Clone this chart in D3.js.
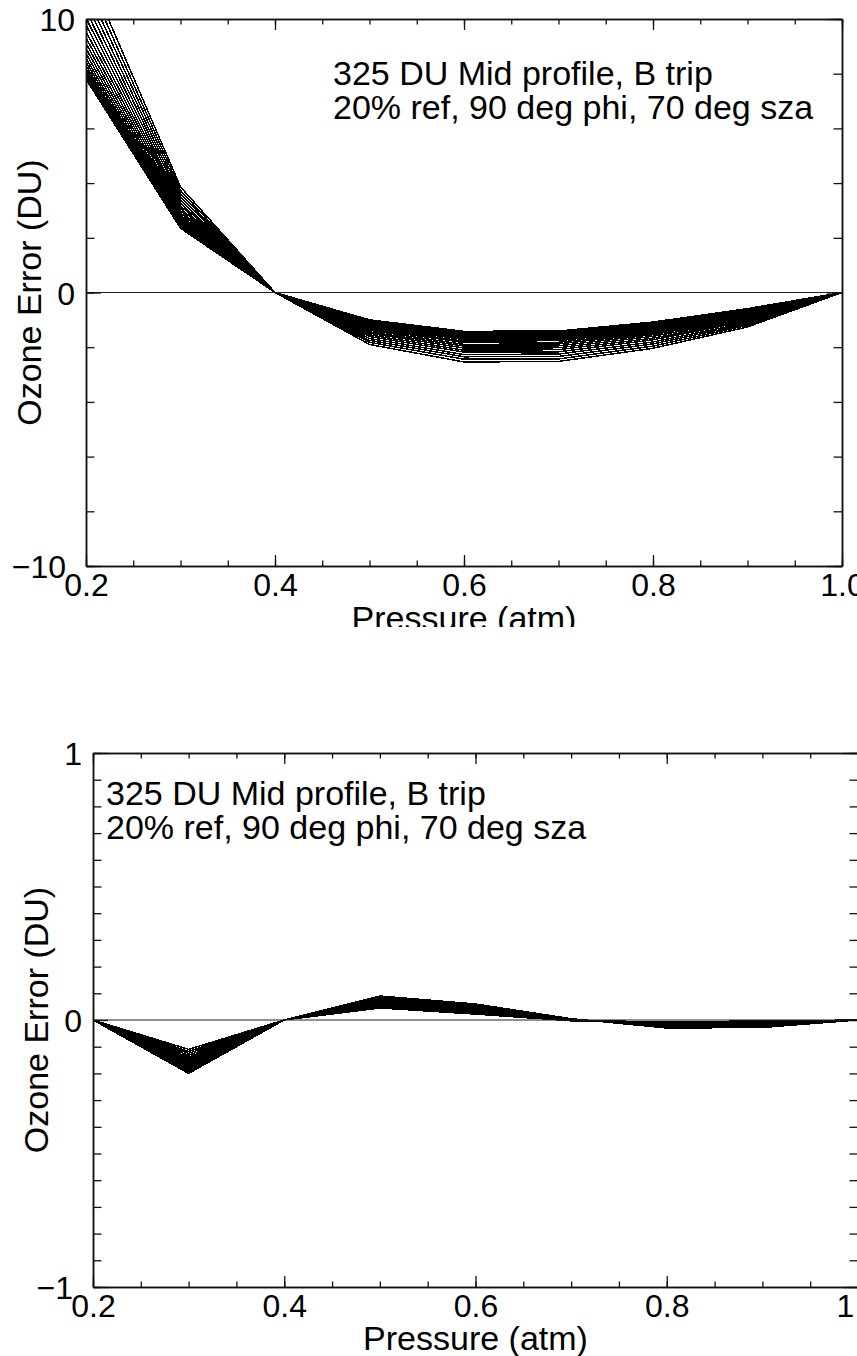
<!DOCTYPE html>
<html>
<head>
<meta charset="utf-8">
<script src="https://cdn.jsdelivr.net/npm/d3@7"></script>
<style>
  html, body { margin: 0; padding: 0; background: #fff; }
  svg { display: block; }
  text { font-family: "Liberation Sans", Arial, Helvetica, sans-serif; fill: #000; }
  .tick text { font-size: 32px; font-family: "Liberation Sans", Arial, Helvetica, sans-serif; }
  .note { font-size: 34px; }
  .title { font-size: 34px; }
  .frame path.domain { stroke: #111; stroke-width: 1.5; }
  .frame .tick line { stroke: #111; stroke-width: 1.3; }
</style>
</head>
<body>
<svg id="chart" width="857" height="1356"></svg>
<script>
// Pressure levels (atm) shared by every curve
const pressure = [0.2, 0.3, 0.4, 0.5, 0.6, 0.7, 0.8, 0.9, 1.0];

// Ozone error (DU) per pressure level, one row per curve — upper panel
const upperCurves = [
  [7.80, 2.35, 0, -1.00, -1.42, -1.41, -1.08, -0.59, 0],
  [7.81, 2.35, 0, -1.00, -1.42, -1.41, -1.08, -0.59, 0],
  [7.83, 2.36, 0, -1.01, -1.43, -1.42, -1.09, -0.60, 0],
  [7.87, 2.38, 0, -1.02, -1.44, -1.43, -1.10, -0.60, 0],
  [7.92, 2.40, 0, -1.03, -1.45, -1.44, -1.11, -0.61, 0],
  [7.99, 2.42, 0, -1.04, -1.47, -1.46, -1.13, -0.62, 0],
  [8.08, 2.45, 0, -1.06, -1.50, -1.49, -1.15, -0.64, 0],
  [8.18, 2.49, 0, -1.08, -1.52, -1.51, -1.17, -0.65, 0],
  [8.30, 2.53, 0, -1.11, -1.56, -1.54, -1.20, -0.67, 0],
  [8.43, 2.58, 0, -1.14, -1.59, -1.58, -1.23, -0.69, 0],
  [8.57, 2.64, 0, -1.17, -1.63, -1.62, -1.26, -0.72, 0],
  [8.74, 2.70, 0, -1.21, -1.68, -1.66, -1.30, -0.74, 0],
  [8.92, 2.76, 0, -1.24, -1.72, -1.71, -1.34, -0.77, 0],
  [9.11, 2.83, 0, -1.29, -1.78, -1.76, -1.39, -0.80, 0],
  [9.32, 2.91, 0, -1.33, -1.83, -1.82, -1.44, -0.84, 0],
  [9.54, 2.99, 0, -1.38, -1.90, -1.88, -1.49, -0.87, 0],
  [9.78, 3.08, 0, -1.44, -1.96, -1.95, -1.54, -0.91, 0],
  [10.04, 3.17, 0, -1.49, -2.03, -2.02, -1.60, -0.96, 0],
  [10.31, 3.27, 0, -1.55, -2.11, -2.09, -1.67, -1.00, 0],
  [10.60, 3.38, 0, -1.61, -2.18, -2.17, -1.73, -1.05, 0],
  [10.90, 3.49, 0, -1.68, -2.27, -2.25, -1.81, -1.10, 0],
  [11.22, 3.61, 0, -1.75, -2.35, -2.34, -1.88, -1.15, 0],
  [11.55, 3.73, 0, -1.82, -2.44, -2.43, -1.96, -1.20, 0],
  [11.90, 3.86, 0, -1.90, -2.54, -2.52, -2.04, -1.26, 0]
];

// Ozone error (DU) per pressure level, one row per curve — lower panel
const lowerCurves = [
  [0, -0.200, 0, 0.090, 0.060, 0.005, -0.030, -0.028, 0],
  [0, -0.200, 0, 0.090, 0.060, 0.005, -0.030, -0.028, 0],
  [0, -0.199, 0, 0.090, 0.060, 0.005, -0.030, -0.028, 0],
  [0, -0.198, 0, 0.089, 0.059, 0.005, -0.030, -0.028, 0],
  [0, -0.197, 0, 0.089, 0.059, 0.005, -0.029, -0.027, 0],
  [0, -0.196, 0, 0.088, 0.058, 0.005, -0.029, -0.027, 0],
  [0, -0.194, 0, 0.087, 0.057, 0.004, -0.028, -0.026, 0],
  [0, -0.192, 0, 0.086, 0.056, 0.004, -0.028, -0.026, 0],
  [0, -0.189, 0, 0.085, 0.055, 0.004, -0.027, -0.025, 0],
  [0, -0.186, 0, 0.083, 0.054, 0.004, -0.026, -0.024, 0],
  [0, -0.183, 0, 0.081, 0.053, 0.003, -0.025, -0.023, 0],
  [0, -0.179, 0, 0.080, 0.051, 0.003, -0.025, -0.023, 0],
  [0, -0.176, 0, 0.078, 0.050, 0.003, -0.023, -0.021, 0],
  [0, -0.171, 0, 0.076, 0.048, 0.002, -0.022, -0.020, 0],
  [0, -0.167, 0, 0.073, 0.046, 0.002, -0.021, -0.019, 0],
  [0, -0.162, 0, 0.071, 0.044, 0.002, -0.020, -0.018, 0],
  [0, -0.156, 0, 0.068, 0.042, 0.001, -0.018, -0.016, 0],
  [0, -0.151, 0, 0.065, 0.039, 0.001, -0.017, -0.015, 0],
  [0, -0.145, 0, 0.062, 0.037, 0.000, -0.015, -0.013, 0],
  [0, -0.139, 0, 0.059, 0.034, 0.000, -0.014, -0.012, 0],
  [0, -0.132, 0, 0.056, 0.031, -0.001, -0.012, -0.010, 0],
  [0, -0.125, 0, 0.052, 0.028, -0.002, -0.010, -0.008, 0],
  [0, -0.118, 0, 0.049, 0.025, -0.002, -0.008, -0.006, 0],
  [0, -0.110, 0, 0.045, 0.022, -0.003, -0.006, -0.004, 0]
];

// Axis ticks and labels
const xMajorTicks = [0.2, 0.4, 0.6, 0.8, 1.0];
const upperXLabels = ["0.2", "0.4", "0.6", "0.8", "1.0"];
const lowerXLabels = ["0.2", "0.4", "0.6", "0.8", "1"];
const upperYTicks = [-10, 0, 10];
const upperYLabels = ["\u221210", "0", "10"];
const lowerYTicks = [-1, 0, 1];
const lowerYLabels = ["\u22121", "0", "1"];

// Text
const noteLines = ["325 DU Mid profile, B trip", "20% ref, 90 deg phi, 70 deg sza"];
const xTitle = "Pressure (atm)";
const yTitle = "Ozone Error (DU)";

const svg = d3.select("#chart");

function drawPanel(o) {
  const root = svg.append("g");
  if (o.clipHeight) {
    root.append("clipPath").attr("id", o.id + "-panel")
      .append("rect").attr("x", 0).attr("y", o.clipTop).attr("width", 857).attr("height", o.clipHeight);
    root.attr("clip-path", `url(#${o.id}-panel)`);
  }

  const x = d3.scaleLinear().domain([0.2, 1.0]).range([o.left, o.right]);
  const y = d3.scaleLinear().domain(o.yDomain).range([o.bottom, o.top]);

  // data curves, clipped to the plot box
  root.append("clipPath").attr("id", o.id + "-plot")
    .append("rect").attr("x", o.left).attr("y", o.top)
    .attr("width", o.right - o.left).attr("height", o.bottom - o.top);

  const line = d3.line().x((d, i) => x(pressure[i])).y(d => y(d));
  root.append("g").attr("clip-path", `url(#${o.id}-plot)`)
    .selectAll("path").data(o.curves).join("path")
    .attr("d", line)
    .attr("fill", "none").attr("stroke", "#000").attr("stroke-width", 1.5)
    .attr("shape-rendering", "crispEdges");

  // zero reference line
  root.append("line")
    .attr("x1", o.left).attr("x2", o.right)
    .attr("y1", y(0)).attr("y2", y(0))
    .attr("stroke", "#222").attr("stroke-width", 1.2);

  const xMinor = x.ticks(16);
  const yMinor = y.ticks(o.yMinorCount);
  const xMajLen = 11, xMinLen = 5.5, yMajLen = 15, yMinLen = 8.5;

  const frame = root.append("g").attr("class", "frame");

  // bottom
  frame.append("g").attr("transform", `translate(0,${o.bottom})`)
    .call(d3.axisBottom(x).tickValues(xMinor).tickSize(-xMinLen).tickSizeOuter(0).tickFormat(""));
  const bx = frame.append("g").attr("transform", `translate(0,${o.bottom})`)
    .call(d3.axisBottom(x).tickValues(xMajorTicks).tickSize(-xMajLen).tickSizeOuter(0)
      .tickFormat((d, i) => o.xLabels[i]));
  bx.selectAll(".tick text").attr("y", 30).attr("dy", null)
    .attr("dx", (d, i) => (i === o.xLabels.length - 1 ? o.lastXLabelShift : 0));

  // top
  frame.append("g").attr("transform", `translate(0,${o.top})`)
    .call(d3.axisTop(x).tickValues(xMinor).tickSize(-xMinLen).tickSizeOuter(0).tickFormat(""));
  frame.append("g").attr("transform", `translate(0,${o.top})`)
    .call(d3.axisTop(x).tickValues(xMajorTicks).tickSize(-xMajLen).tickSizeOuter(0).tickFormat(""));

  // left
  frame.append("g").attr("transform", `translate(${o.left},0)`)
    .call(d3.axisLeft(y).tickValues(yMinor).tickSize(-yMinLen).tickSizeOuter(0).tickFormat(""));
  const ly = frame.append("g").attr("transform", `translate(${o.left},0)`)
    .call(d3.axisLeft(y).tickValues(o.yTicks).tickSize(-yMajLen).tickSizeOuter(0)
      .tickFormat((d, i) => o.yLabels[i]));
  ly.selectAll(".tick text")
    .attr("x", (d, i) => -11 - (o.yLabels[i].startsWith("\u2212") ? 9 : 0))
    .attr("dy", "0.36em");

  // right
  frame.append("g").attr("transform", `translate(${o.right},0)`)
    .call(d3.axisRight(y).tickValues(yMinor).tickSize(-yMinLen).tickSizeOuter(0).tickFormat(""));
  frame.append("g").attr("transform", `translate(${o.right},0)`)
    .call(d3.axisRight(y).tickValues(o.yTicks).tickSize(-yMajLen).tickSizeOuter(0).tickFormat(""));

  frame.selectAll("g").attr("font-size", null).attr("font-family", null);

  // annotation, one text per line
  root.selectAll("text.note").data(noteLines).join("text")
    .attr("class", "note")
    .attr("x", o.noteX).attr("y", (d, i) => o.noteY + i * 34)
    .text(d => d);

  // axis titles
  root.append("text").attr("class", "title")
    .attr("x", (o.left + o.right) / 2).attr("y", o.xTitleY)
    .attr("text-anchor", "middle").text(xTitle);
  root.append("text").attr("class", "title")
    .attr("transform", `translate(${o.yTitleX},${(o.top + o.bottom) / 2}) rotate(-90)`)
    .attr("text-anchor", "middle").text(yTitle);
}

drawPanel({
  id: "upper", curves: upperCurves,
  left: 86, right: 842, top: 19, bottom: 566,
  yDomain: [-10, 10], yTicks: upperYTicks, yLabels: upperYLabels, yMinorCount: 10,
  xLabels: upperXLabels, lastXLabelShift: 0,
  noteX: 333, noteY: 85, xTitleY: 630, yTitleX: 41,
  clipTop: 0, clipHeight: 627
});

drawPanel({
  id: "lower", curves: lowerCurves,
  left: 93, right: 858, top: 753, bottom: 1287,
  yDomain: [-1, 1], yTicks: lowerYTicks, yLabels: lowerYLabels, yMinorCount: 20,
  xLabels: lowerXLabels, lastXLabelShift: -13,
  noteX: 106, noteY: 805, xTitleY: 1350, yTitleX: 48
});
</script>
</body>
</html>
